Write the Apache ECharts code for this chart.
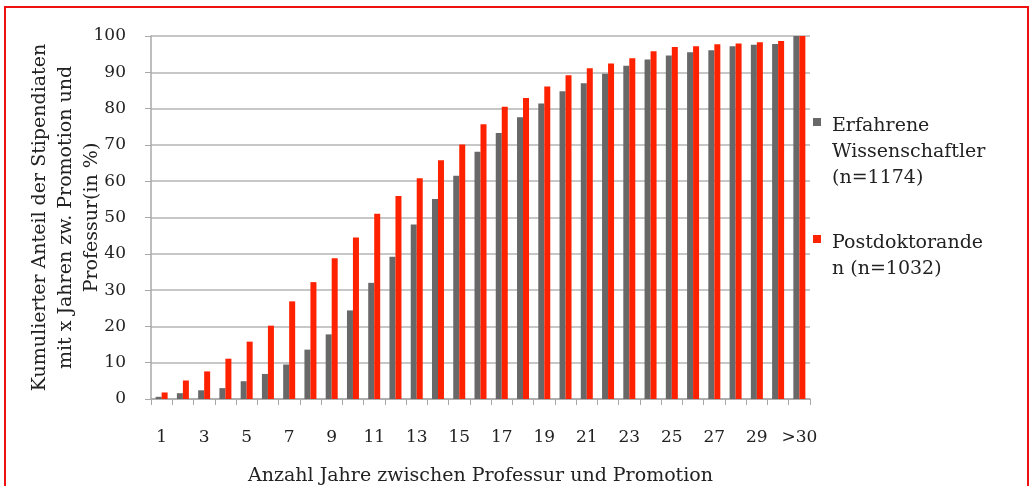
<!DOCTYPE html>
<html>
<head>
<meta charset="utf-8">
<script src="https://cdn.jsdelivr.net/npm/echarts@6/dist/echarts.min.js"></script>
<style>
  html, body { margin: 0; padding: 0; background: #ffffff; }
  #chart { width: 1032px; height: 486px; }
</style>
</head>
<body>
<div id="chart"></div>
<script>
// Years between doctorate and professorship (31 classes, the last one open-ended)
const years = ['1','2','3','4','5','6','7','8','9','10','11','12','13','14','15','16','17','18','19','20','21','22','23','24','25','26','27','28','29','30','>30'];

// Cumulative share of fellows (in %)
const experienced = [0.6, 1.6, 2.4, 3.0, 4.9, 6.9, 9.5, 13.6, 17.8, 24.4, 32.0, 39.2, 48.1, 55.1, 61.5, 68.1, 73.3, 77.6, 81.4, 84.8, 87.0, 89.6, 91.8, 93.5, 94.6, 95.5, 96.1, 97.2, 97.6, 97.8, 100];
const postdocs = [1.8, 5.1, 7.6, 11.1, 15.8, 20.2, 26.9, 32.2, 38.8, 44.5, 51.0, 55.9, 60.8, 65.8, 70.1, 75.7, 80.5, 82.9, 86.1, 89.2, 91.1, 92.4, 93.9, 95.8, 97.0, 97.2, 97.7, 97.9, 98.3, 98.6, 100];

// Legend entries (both padded to three text lines so the swatch sits on the first line)
const seriesNames = ['Erfahrene\nWissenschaftler\n(n=1174)', 'Postdoktorande\nn (n=1032)\n '];

const FONT = '"DejaVu Serif", "Liberation Serif", serif';
const TEXT = '#222222';
const AXIS = '#a8a8a8';

// Swatch: an 8x8 square near the top of a box as tall as three text lines
const SWATCH = 'path://M0,5L8,5L8,13L0,13Z M0,0 M8,78';

const chart = echarts.init(document.getElementById('chart'), null, { renderer: 'canvas' });

chart.setOption({
  backgroundColor: '#ffffff',
  animation: false,
  graphic: [{
    type: 'rect',
    shape: { x: 5, y: 7, width: 1023, height: 520 },
    style: { fill: 'none', stroke: '#ee1111', lineWidth: 2 }
  }],
  grid: { left: 151, top: 36, right: 222, bottom: 87, outerBoundsMode: 'none', containLabel: false },
  legend: {
    orient: 'vertical',
    left: 808,
    top: 108,
    padding: 5,
    itemWidth: 8,
    itemHeight: 78,
    itemGap: 39,
    icon: SWATCH,
    data: seriesNames,
    textStyle: { fontFamily: FONT, fontSize: 19, color: TEXT, lineHeight: 26, padding: [0, 0, 0, 6] }
  },
  xAxis: {
    type: 'category',
    data: years,
    name: 'Anzahl Jahre zwischen Professur und Promotion',
    nameLocation: 'middle',
    nameGap: 68,
    nameMoveOverlap: false,
    nameTextStyle: { fontFamily: FONT, fontSize: 19, color: TEXT },
    axisLine: { lineStyle: { color: AXIS, width: 1.5 } },
    axisTick: { show: true, alignWithLabel: false, length: 6, interval: 0, lineStyle: { color: AXIS } },
    axisLabel: { interval: 1, margin: 30, fontFamily: FONT, fontSize: 17, color: TEXT }
  },
  yAxis: {
    type: 'value',
    min: 0,
    max: 100,
    interval: 10,
    name: 'Kumulierter Anteil der Stipendiaten\nmit x Jahren zw. Promotion und\nProfessur(in %)',
    nameLocation: 'middle',
    nameGap: 46,
    nameMoveOverlap: false,
    nameRotate: 90,
    nameTextStyle: { fontFamily: FONT, fontSize: 19, color: TEXT, lineHeight: 26 },
    axisLine: { show: true, lineStyle: { color: AXIS, width: 1.5 } },
    axisTick: { show: true, length: 6, lineStyle: { color: AXIS } },
    splitLine: { lineStyle: { color: '#b4b4b4', width: 1.5 } },
    axisLabel: { margin: 25, fontFamily: FONT, fontSize: 17, color: TEXT }
  },
  series: [
    {
      name: seriesNames[0],
      type: 'bar',
      data: experienced,
      barWidth: 6,
      barGap: '0%',
      itemStyle: { color: '#686868' }
    },
    {
      name: seriesNames[1],
      type: 'bar',
      data: postdocs,
      barWidth: 6,
      barGap: '0%',
      itemStyle: { color: '#ff2200' }
    }
  ]
});
</script>
</body>
</html>
